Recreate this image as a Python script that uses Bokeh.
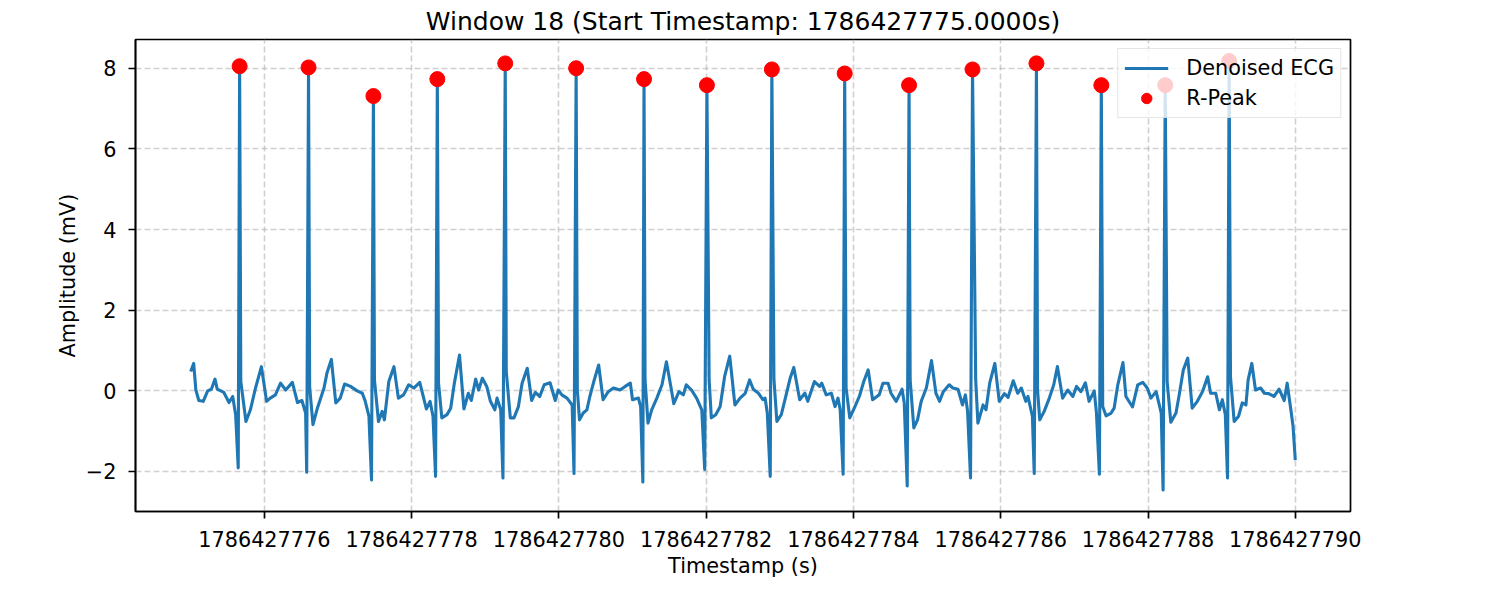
from bokeh.plotting import figure
from bokeh.models import Range1d, FixedTicker, CustomJSTickFormatter
from bokeh.embed import file_html
from bokeh.resources import INLINE

# ---------------- data ----------------
window_no = 18
start_ts = 1786427775.0

# ECG trace: time offsets (s) from the window start, amplitude (mV)
ecg_t = [
    0.00, 0.04, 0.07, 0.11, 0.17, 0.23, 0.28, 0.33, 0.36, 0.45, 0.52, 0.57, 0.61, 0.645, 0.664,
    0.68, 0.75, 0.81, 0.88, 0.96, 1.03, 1.08, 1.15, 1.22, 1.29, 1.38, 1.45, 1.51, 1.56, 1.575, 1.600,
    1.615, 1.66, 1.72, 1.81, 1.85, 1.91, 1.97, 2.03, 2.09, 2.17, 2.26, 2.33, 2.37, 2.42, 2.455, 2.481,
    2.495, 2.55, 2.60, 2.63, 2.69, 2.76, 2.82, 2.89, 2.96, 3.03, 3.11, 3.20, 3.25, 3.29, 3.325, 3.349,
    3.365, 3.41, 3.48, 3.53, 3.58, 3.65, 3.71, 3.77, 3.81, 3.87, 3.91, 3.96, 4.02, 4.07, 4.13, 4.16, 4.21, 4.24, 4.271,
    4.285, 4.34, 4.39, 4.45, 4.50, 4.57, 4.63, 4.68, 4.74, 4.80, 4.88, 4.95, 4.99, 5.04, 5.11, 5.18, 5.205, 5.234,
    5.25, 5.28, 5.33, 5.38, 5.42, 5.48, 5.54, 5.60, 5.67, 5.74, 5.83, 5.90, 5.97, 6.00, 6.08, 6.11, 6.14, 6.156,
    6.17, 6.21, 6.26, 6.33, 6.40, 6.46, 6.52, 6.56, 6.63, 6.69, 6.73, 6.80, 6.87, 6.94, 6.98, 7.010,
    7.04, 7.07, 7.13, 7.19, 7.25, 7.32, 7.39, 7.46, 7.53, 7.59, 7.64, 7.71, 7.77, 7.80, 7.83, 7.87, 7.892,
    7.92, 7.96, 8.02, 8.07, 8.14, 8.19, 8.27, 8.34, 8.38, 8.47, 8.54, 8.57, 8.63, 8.70, 8.75, 8.79, 8.82, 8.86, 8.881,
    8.90, 8.95, 9.02, 9.08, 9.14, 9.20, 9.26, 9.35, 9.40, 9.47, 9.51, 9.58, 9.66, 9.69, 9.73, 9.755,
    9.77, 9.82, 9.87, 9.92, 9.99, 10.06, 10.12, 10.17, 10.22, 10.30, 10.35, 10.42, 10.48, 10.52, 10.55, 10.59, 10.617,
    10.66, 10.69, 10.76, 10.80, 10.85, 10.92, 10.98, 11.05, 11.10, 11.17, 11.23, 11.28, 11.34, 11.37, 11.43, 11.455, 11.485,
    11.50, 11.53, 11.59, 11.66, 11.72, 11.77, 11.84, 11.91, 11.98, 12.03, 12.09, 12.15, 12.20, 12.27, 12.30, 12.34, 12.366,
    12.385, 12.43, 12.50, 12.54, 12.59, 12.66, 12.70, 12.79, 12.86, 12.93, 12.99, 13.04, 13.11, 13.18, 13.205, 13.234,
    13.26, 13.31, 13.38, 13.42, 13.48, 13.54, 13.60, 13.67, 13.74, 13.81, 13.85, 13.92, 13.97, 14.01, 14.05, 14.08, 14.102,
    14.12, 14.17, 14.23, 14.28, 14.33, 14.36, 14.41, 14.46, 14.53, 14.58, 14.64, 14.71, 14.78, 14.85, 14.89, 14.94, 14.97, 15.00,
]
ecg_v = [
    0.48, 0.68, 0.02, -0.24, -0.26, 0.00, 0.04, 0.29, 0.04, -0.04, -0.29, -0.14, -0.59, -1.91, 8.05,
    0.23, -0.76, -0.47, 0.07, 0.60, -0.26, -0.18, -0.10, 0.19, 0.02, 0.21, -0.29, -0.24, -0.55, -2.02, 8.02,
    0.10, -0.84, -0.43, 0.07, 0.44, 0.78, -0.30, -0.18, 0.17, 0.11, 0.00, -0.06, -0.26, -0.63, -2.21, 7.31,
    0.27, -0.76, -0.51, -0.72, 0.23, 0.60, -0.18, -0.10, 0.15, 0.07, 0.21, -0.45, -0.26, -0.63, -2.12, 7.73,
    0.20, -0.67, -0.59, -0.43, 0.19, 0.89, -0.45, -0.06, -0.24, 0.29, 0.02, 0.31, 0.11, -0.26, -0.47, -0.18, -0.47, -2.16, 8.12,
    0.48, -0.67, -0.67, -0.39, 0.19, 0.56, -0.24, -0.04, -0.14, 0.15, 0.20, -0.24, 0.02, -0.10, -0.18, -0.35, -2.05, 8.00,
    0.02, -0.72, -0.55, -0.47, -0.14, 0.27, 0.64, -0.22, -0.02, 0.07, 0.02, 0.11, 0.19, -0.22, -0.18, -0.39, -2.26, 7.73,
    0.27, -0.80, -0.47, -0.18, 0.15, 0.72, 0.11, -0.32, -0.02, -0.10, 0.15, 0.02, -0.18, -0.47, -1.95, 7.58,
    0.27, -0.67, -0.59, -0.39, 0.35, 0.86, -0.35, -0.18, -0.06, 0.27, 0.04, -0.06, -0.22, -0.18, -0.55, -2.12, 7.97,
    0.29, -0.76, -0.59, -0.22, 0.31, 0.58, -0.22, -0.06, -0.26, 0.23, 0.11, 0.19, -0.10, -0.06, -0.39, -0.18, -0.47, -2.07, 7.87,
    0.07, -0.67, -0.39, -0.14, 0.23, 0.52, -0.22, -0.10, 0.19, 0.19, -0.06, -0.26, 0.04, -0.30, -2.36, 7.58,
    0.27, -0.92, -0.72, -0.26, 0.07, 0.75, -0.06, -0.26, -0.02, 0.15, 0.07, 0.04, -0.35, -0.10, -0.51, -2.16, 7.97,
    0.27, -0.80, -0.35, -0.47, 0.19, 0.68, -0.26, -0.07, -0.16, 0.25, -0.06, 0.07, -0.26, -0.14, -0.63, -2.05, 8.12,
    0.02, -0.72, -0.51, -0.18, 0.15, 0.60, -0.18, 0.02, -0.14, 0.11, -0.02, 0.20, -0.26, 0.00, -0.55, -2.07, 7.58,
    -0.39, -0.62, -0.55, -0.43, 0.15, 0.70, -0.14, -0.40, 0.15, 0.21, 0.07, -0.18, -0.02, -0.55, -2.46, 7.58,
    0.23, -0.78, -0.55, -0.14, 0.52, 0.81, -0.43, -0.26, -0.02, 0.35, -0.06, -0.06, -0.47, -0.22, -0.59, -2.16, 8.18,
    0.35, -0.76, -0.63, -0.30, -0.35, 0.27, 0.68, 0.02, 0.07, -0.06, -0.07, -0.14, 0.04, -0.24, 0.19, -0.47, -0.88, -1.72,
]

# R-peaks: time offsets (s) and amplitude (mV)
peak_t = [0.664, 1.600, 2.481, 3.349, 4.271, 5.234, 6.156, 7.010,
          7.892, 8.881, 9.755, 10.617, 11.485, 12.366, 13.234, 14.102]
peak_v = [8.05, 8.02, 7.31, 7.73, 8.12, 8.00, 7.73, 7.58,
          7.97, 7.87, 7.58, 7.97, 8.12, 7.58, 7.58, 8.18]

x_ticks = [1786427776, 1786427778, 1786427780, 1786427782,
           1786427784, 1786427786, 1786427788, 1786427790]
y_ticks = [-2, 0, 2, 4, 6, 8]

# ---------------- build ----------------
n = min(len(ecg_t), len(ecg_v))
ecg_x = [start_ts + t for t in ecg_t[:n]]
ecg_y = ecg_v[:n]
pk_x = [start_ts + t for t in peak_t]

all_y = list(ecg_y) + peak_v
ylo, yhi = min(all_y), max(all_y)
ypad = 0.05 * (yhi - ylo)
xlo, xhi = min(ecg_x), max(ecg_x)
xpad = 0.05 * (xhi - xlo)

FONT = "DejaVu Sans"

p = figure(
    frame_width=1215, frame_height=472,
    min_border_left=135, min_border_right=134, min_border_top=31, min_border_bottom=81,
    x_range=Range1d(xlo - xpad, xhi + xpad),
    y_range=Range1d(ylo - ypad, yhi + ypad),
    output_backend="svg", toolbar_location=None,
    title=f"Window {window_no} (Start Timestamp: {start_ts:.4f}s)",
    background_fill_color="white", border_fill_color="white",
)

p.title.align = "center"
p.title.text_font = FONT
p.title.text_font_size = "25px"
p.title.text_font_style = "normal"
p.title.text_color = "black"
p.title.standoff = 8

p.outline_line_color = "black"
p.outline_line_width = 1.7

# grid
for g in (p.xgrid, p.ygrid):
    g.grid_line_color = "#b0b0b0"
    g.grid_line_alpha = 0.6
    g.grid_line_width = 1.6
    g.grid_line_dash = "6 3"

p.xaxis.ticker = FixedTicker(ticks=x_ticks)
p.yaxis.ticker = FixedTicker(ticks=y_ticks)
p.xaxis.formatter = CustomJSTickFormatter(code="return tick.toFixed(0);")
p.yaxis.formatter = CustomJSTickFormatter(code="return tick.toFixed(0).replace('-', '\u2212');")

p.xaxis.axis_label = "Timestamp (s)"
p.yaxis.axis_label = "Amplitude (mV)"
for ax in (p.xaxis, p.yaxis):
    ax.axis_label_text_font = FONT
    ax.axis_label_text_font_size = "20.8px"
    ax.axis_label_text_font_style = "normal"
    ax.axis_label_text_color = "black"
    ax.major_label_text_font = FONT
    ax.major_label_text_font_size = "20.8px"
    ax.major_label_text_color = "black"
    ax.axis_line_color = "black"
    ax.axis_line_width = 1.7
    ax.major_tick_line_color = "black"
    ax.major_tick_line_width = 1.7
    ax.major_tick_out = 7
    ax.major_tick_in = 0
    ax.minor_tick_line_color = None

p.xaxis.major_label_standoff = 12
p.xaxis.axis_label_standoff = 4
p.yaxis.major_label_standoff = 12
p.yaxis.axis_label_standoff = 3

p.line(ecg_x, ecg_y, line_color="#1f77b4", line_width=3.1, line_join="round",
       legend_label="Denoised ECG")
p.scatter(pk_x, peak_v, size=15, marker="circle", fill_color="red", line_color="red",
          legend_label="R-Peak")

lg = p.legend[0]
lg.location = "top_right"
lg.margin = 9
lg.padding = 6
lg.spacing = 4
lg.label_height = 26
lg.glyph_height = 26
lg.glyph_width = 44
lg.label_standoff = 18
lg.label_text_font = FONT
lg.label_text_font_size = "20.8px"
lg.label_text_color = "black"
lg.background_fill_color = "white"
lg.background_fill_alpha = 0.8
lg.border_line_color = "#cccccc"
lg.border_line_width = 1.5

open("out.html", "w").write(file_html(p, INLINE))
